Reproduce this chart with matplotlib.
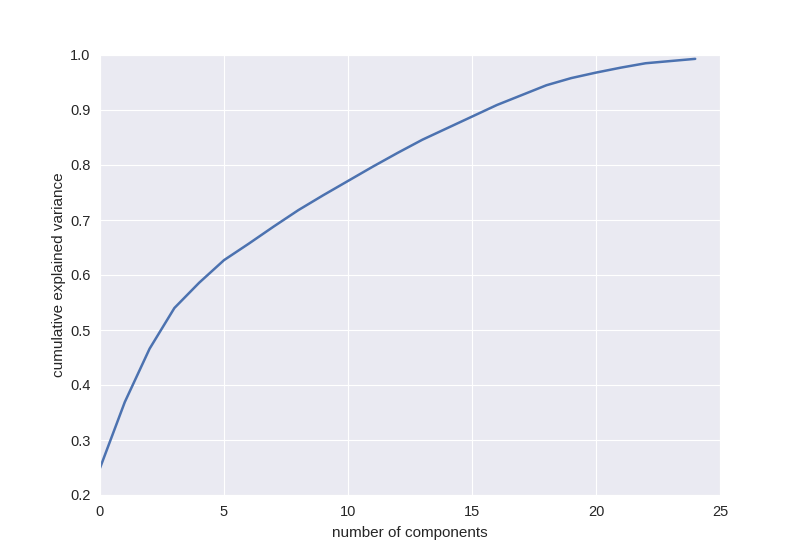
import numpy as np
import matplotlib
matplotlib.use("Agg")
import matplotlib.pyplot as plt
import seaborn as sns

# cumulative explained variance per number of components
components = list(range(25))
cum_var = [0.249, 0.369, 0.466, 0.540, 0.586, 0.627, 0.657, 0.688, 0.718,
           0.745, 0.771, 0.797, 0.822, 0.846, 0.867, 0.888, 0.909, 0.927,
           0.945, 0.958, 0.968, 0.977, 0.985, 0.989, 0.993]

sns.set_style("darkgrid")
plt.rcParams['font.family'] = ['Liberation Sans', 'DejaVu Sans']

fig = plt.figure(figsize=(8, 5.5), dpi=100)
fig.subplots_adjust(left=0.125, right=0.9, top=0.9, bottom=0.1)
ax = fig.add_subplot(111)
ax.plot(components, cum_var, color="#4C72B0", linewidth=1.8)
ax.set_xlim(0, 25)
ax.set_ylim(0.2, 1.0)
ax.set_xlabel("number of components", fontsize=11, labelpad=5)
ax.set_ylabel("cumulative explained variance", fontsize=11, labelpad=3)
ax.tick_params(labelsize=10.5, length=0, pad=7)

fig.savefig("out.png", dpi=100)
